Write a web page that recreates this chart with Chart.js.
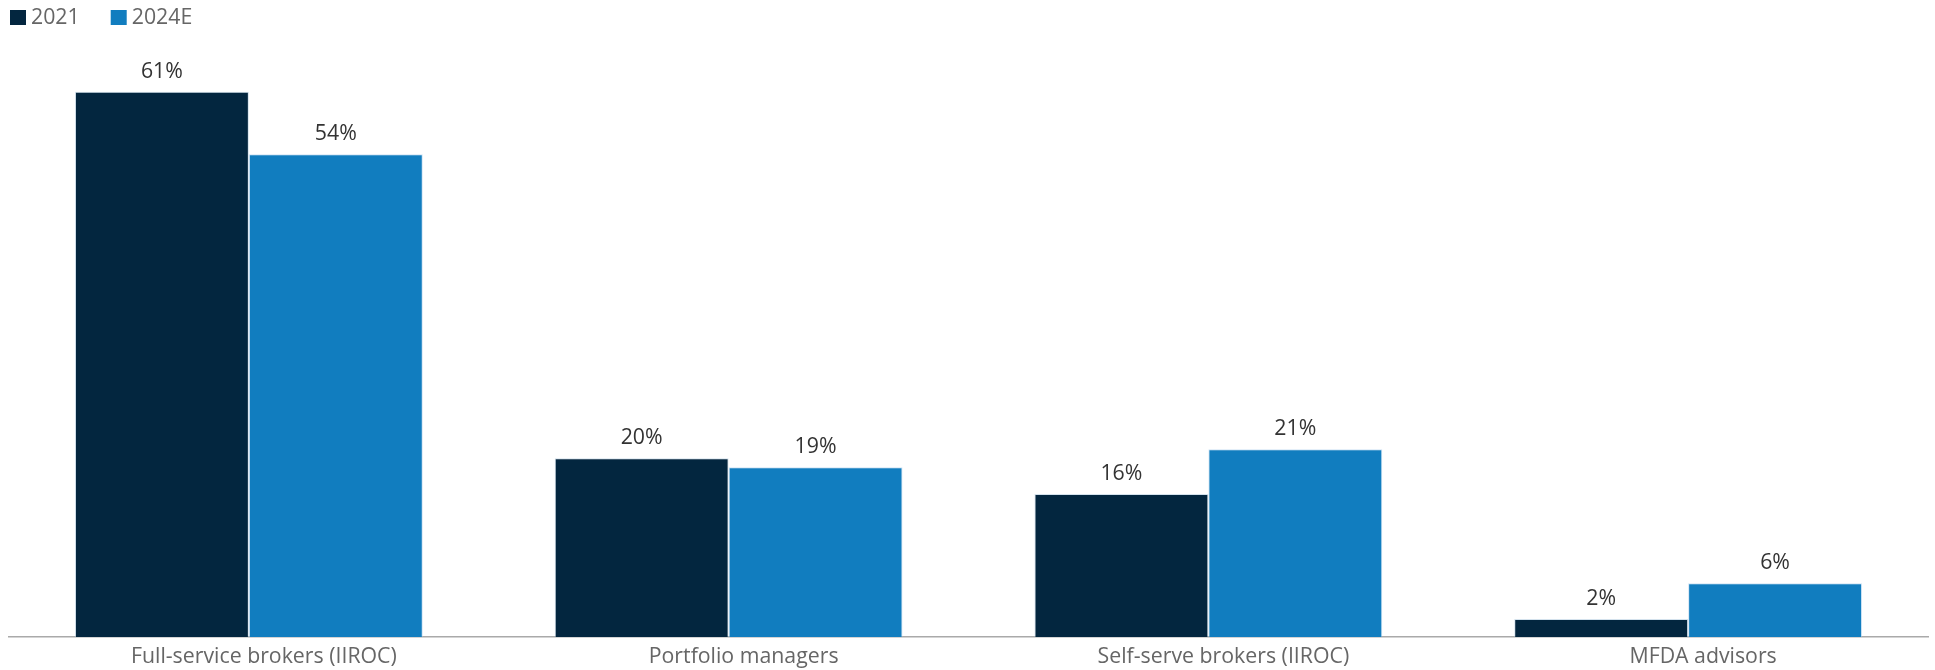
<!DOCTYPE html>
<html>
<head>
<meta charset="utf-8">
<script src="https://cdn.jsdelivr.net/npm/chart.js@4/dist/chart.umd.min.js"></script>
<style>
  html, body { margin: 0; padding: 0; background: #fff; }
  #wrap { width: 1935px; height: 670px; position: relative; }
</style>
</head>
<body>
<div id="wrap"><canvas id="shareChart"></canvas></div>
<script>
// categories and series
var categories = ['Full-service brokers (IIROC)', 'Portfolio managers', 'Self-serve brokers (IIROC)', 'MFDA advisors'];
var seriesNames = ['2021', '2024E'];
var values2021 = [61, 20, 16, 2];
var values2024E = [54, 19, 21, 6];
var seriesColors = ['#03263f', '#117dbf'];

var FONT = "'Open Sans', 'Noto Sans', sans-serif";
var FONT_SIZE = 21.3;

// value labels above each bar
var barLabels = {
    id: 'barLabels',
    afterDatasetsDraw: function (chart) {
        var ctx = chart.ctx;
        ctx.save();
        ctx.font = FONT_SIZE + 'px ' + FONT;
        ctx.fillStyle = '#333';
        ctx.textAlign = 'center';
        ctx.textBaseline = 'alphabetic';
        chart.data.datasets.forEach(function (ds, i) {
            chart.getDatasetMeta(i).data.forEach(function (bar, j) {
                ctx.fillText(ds.data[j] + '%', bar.x, bar.y - 14);
            });
        });
        ctx.restore();
    }
};

// small legend in the top-left corner
var cornerLegend = {
    id: 'cornerLegend',
    afterDraw: function (chart) {
        var ctx = chart.ctx;
        ctx.save();
        ctx.font = FONT_SIZE + 'px ' + FONT;
        ctx.textBaseline = 'middle';
        var x = 10;
        chart.data.datasets.forEach(function (ds) {
            ctx.fillStyle = ds.backgroundColor;
            ctx.fillRect(x, 10, 16, 15);
            ctx.fillStyle = '#666';
            ctx.fillText(ds.label, x + 21, 18);
            x += 21 + ctx.measureText(ds.label).width + 31;
        });
        ctx.restore();
    }
};

var ctx = document.getElementById('shareChart').getContext('2d');
var shareChart = new Chart(ctx, {
    type: 'bar',
    data: {
        labels: categories,
        datasets: [{
            label: seriesNames[0],
            data: values2021,
            backgroundColor: seriesColors[0],
            borderColor: 'rgba(160,190,215,0.45)',
            borderWidth: 1
        }, {
            label: seriesNames[1],
            data: values2024E,
            backgroundColor: seriesColors[1],
            borderColor: 'rgba(160,200,235,0.5)',
            borderWidth: 1
        }]
    },
    options: {
        responsive: true,
        maintainAspectRatio: false,
        animation: false,
        layout: { padding: { top: 56, left: 9, right: 7, bottom: 0 } },
        plugins: {
            legend: { display: false },
            tooltip: { enabled: false }
        },
        datasets: {
            bar: { categoryPercentage: 0.725, barPercentage: 1 }
        },
        scales: {
            x: {
                grid: { display: false, drawTicks: false },
                border: { display: true, color: '#aaa', width: 1.5 },
                ticks: {
                    color: '#666',
                    padding: 7,
                    labelOffset: 15,
                    font: { family: FONT, size: FONT_SIZE }
                },
                afterFit: function (scale) {
                    scale.height = 33;
                }
            },
            y: {
                display: false,
                min: 0,
                max: 65
            }
        }
    },
    plugins: [barLabels, cornerLegend]
});
</script>
</body>
</html>
